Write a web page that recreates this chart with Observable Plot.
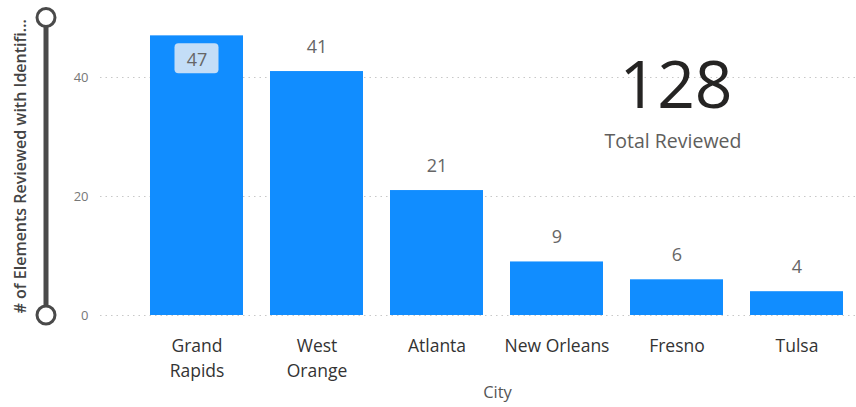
<!DOCTYPE html>
<html>
<head>
<meta charset="utf-8">
<script src="https://cdn.jsdelivr.net/npm/d3@7"></script>
<script src="https://cdn.jsdelivr.net/npm/@observablehq/plot@0.6"></script>
<style>
  html, body { margin: 0; padding: 0; background: #ffffff; }
  #chart { width: 856px; height: 407px; overflow: hidden; }
  svg { font-family: "Open Sans", "Noto Sans", sans-serif; }
</style>
</head>
<body>
<div id="chart"></div>
<script>
const cities = ["Grand Rapids", "West Orange", "Atlanta", "New Orleans", "Fresno", "Tulsa"];
const cityLabels = ["Grand\nRapids", "West\nOrange", "Atlanta", "New Orleans", "Fresno", "Tulsa"];
const reviewed = [47, 41, 21, 9, 6, 4];
const yTicks = [0, 20, 40];
const yLabel = "# of Elements Reviewed with Identifi...";
const xLabel = "City";
const cardValue = "128";
const cardLabel = "Total Reviewed";

const data = cities.map((c, i) => ({city: c, label: cityLabels[i], value: reviewed[i]}));
const yMax = 50;
const insideThreshold = 45;
const insideData = data.filter(d => d.value > insideThreshold);
const outsideData = data.filter(d => d.value <= insideThreshold);

const chart = Plot.plot({
  width: 856,
  height: 407,
  marginTop: 17.5,
  marginBottom: 92,
  marginLeft: 100,
  marginRight: 0,
  style: {fontFamily: '"Open Sans", "Noto Sans", sans-serif', background: "#ffffff"},
  x: {domain: cities, paddingInner: 0.225, paddingOuter: 0.1083, insetLeft: 37, round: false, axis: null},
  y: {domain: [0, yMax], axis: null},
  marks: [
    Plot.gridY(yTicks, {stroke: "#c8c8c8", strokeOpacity: 1, strokeDasharray: "1.5,4", strokeWidth: 1.2}),
    Plot.axisY(yTicks, {tickSize: 0, tickPadding: 12, fontSize: 13, color: "#777", label: null}),
    Plot.barY(data, {x: "city", y: "value", fill: "#118DFF"}),
    Plot.text(outsideData, {
      x: "city", y: "value", text: d => String(d.value), dy: -19,
      lineAnchor: "bottom", fontSize: 18, fill: "#666"
    }),
    Plot.text(insideData, {
      x: "city", y: "value", text: d => String(d.value), dy: 24,
      lineAnchor: "middle", fontSize: 18, fill: "#666", className: "inside-label"
    }),
    Plot.text(data, {
      x: "city", text: "label", frameAnchor: "bottom", dy: 18,
      lineAnchor: "top", lineHeight: 1.45, fontSize: 17.5, fill: "#333"
    }),
    Plot.text([xLabel], {
      frameAnchor: "bottom", dx: 19, dy: 71, lineAnchor: "top",
      fontSize: 16.5, fill: "#555", text: d => d
    })
  ]
});

document.getElementById("chart").appendChild(chart);

const svg = d3.select(chart);
const yS = chart.scale("y");
const xS = chart.scale("x");
const yTop = yS.apply(yMax), yBot = yS.apply(0);

// background box for the inside label(s)
const insideG = svg.select(".inside-label").node();
insideData.forEach(d => {
  const cx = xS.apply(d.city) + xS.bandwidth / 2;
  const cy = yS.apply(d.value) + 23;
  d3.select(insideG.parentNode).insert("rect", () => insideG)
    .attr("x", cx - 22).attr("y", cy - 15)
    .attr("width", 44).attr("height", 30)
    .attr("rx", 4).attr("fill", "#c3ddf7");
});

// zoom slider
const sx = 46;
const slider = svg.append("g");
slider.append("line").attr("x1", sx).attr("x2", sx).attr("y1", yTop).attr("y2", yBot)
  .attr("stroke", "#4a4a4a").attr("stroke-width", 5);
[yTop, yBot].forEach(cy => slider.append("circle").attr("cx", sx).attr("cy", cy).attr("r", 9)
  .attr("fill", "#fff").attr("stroke", "#4a4a4a").attr("stroke-width", 3));

// y axis title
svg.append("text")
  .attr("transform", `translate(22,${(yTop + yBot) / 2}) rotate(-90)`)
  .attr("text-anchor", "middle").attr("dominant-baseline", "middle")
  .attr("font-size", 16).attr("font-weight", 600).attr("fill", "#444")
  .text(yLabel);

// card
svg.append("text").attr("x", 676).attr("y", 108).attr("text-anchor", "middle")
  .attr("font-size", 66).attr("fill", "#252423").text(cardValue);
svg.append("text").attr("x", 673).attr("y", 148).attr("text-anchor", "middle")
  .attr("font-size", 19.5).attr("fill", "#605e5c").text(cardLabel);
</script>
</body>
</html>
